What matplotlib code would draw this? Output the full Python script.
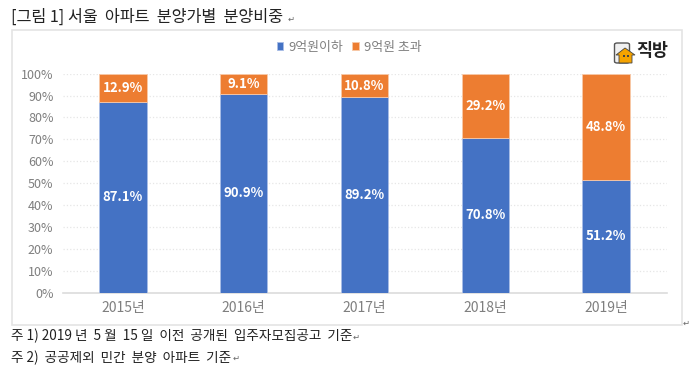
import matplotlib
matplotlib.use('Agg')
import matplotlib.pyplot as plt
from matplotlib.patches import Rectangle, Polygon, FancyBboxPatch

plt.rcParams['font.family'] = ['Noto Sans CJK KR', 'DejaVu Sans']

years = ['2015년', '2016년', '2017년', '2018년', '2019년']
under_9 = [87.1, 90.9, 89.2, 70.8, 51.2]
over_9 = [12.9, 9.1, 10.8, 29.2, 48.8]
yticks = list(range(0, 101, 10))

W, H = 700, 374
BLUE = '#4472c4'
ORANGE = '#ed7d31'
GREY = '#7f7f7f'


def fx(x):
    return x / W


def fy(y):
    return 1 - y / H


fig = plt.figure(figsize=(7, 3.74), dpi=100)

# outer chart frame, kept behind the axes
fig.add_artist(Rectangle((fx(11.5), fy(324.5)), 670.5 / W, 294.5 / H, transform=fig.transFigure,
                         fc='white', ec='#e4e4e4', lw=1.2, zorder=-1))

ax = fig.add_axes([fx(62.5), fy(292.5), 604 / W, 218.8 / H])
ax.patch.set_alpha(0)
xs = range(len(years))
ax.bar(xs, under_9, width=0.393, color=BLUE, ec='#a9bde6', lw=0.6, label='9억원이하', zorder=3)
ax.bar(xs, over_9, width=0.393, bottom=under_9, color=ORANGE, ec='#f8c9a8', lw=0.6, label='9억원 초과', zorder=3)

for i in xs:
    ax.text(i, under_9[i] / 2, f'{under_9[i]}%', color='white', ha='center', va='center',
            fontsize=9.5, fontweight='bold', zorder=4)
    ax.text(i, under_9[i] + over_9[i] / 2, f'{over_9[i]}%', color='white', ha='center', va='center',
            fontsize=9.5, fontweight='bold', zorder=4)

ax.set_xlim(-0.5, 4.5)
ax.set_ylim(0, 100)
ax.set_yticks(yticks)
ax.set_yticklabels([f'{t}%' for t in yticks], fontsize=9, color=GREY)
ax.set_xticks(list(xs))
ax.set_xticklabels(years, fontsize=10, color=GREY)
ax.tick_params(length=0)
ax.tick_params(axis='y', pad=6.5)
ax.tick_params(axis='x', pad=6)
ax.grid(axis='y', color='#e6e6e6', ls=':', lw=0.9, zorder=0)
for s in ['top', 'right', 'left']:
    ax.spines[s].set_visible(False)
ax.spines['bottom'].set_color('#dcdcdc')
ax.spines['bottom'].set_linewidth(1.2)

ax.legend(loc='center', bbox_to_anchor=(fx(349), fy(47)), bbox_transform=fig.transFigure, ncol=2,
          frameon=False, fontsize=9.3, labelcolor=GREY, handlelength=0.5, handleheight=0.5,
          handletextpad=0.4, columnspacing=0.7)

# title and notes
fig.text(fx(11), fy(17.5), '[그림 1] 서울  아파트  분양가별  분양비중', fontsize=11.7, color='#222222', va='center')
fig.text(fx(11), fy(336), '주 1) 2019 년  5 월  15 일  이전  공개된  입주자모집공고  기준', fontsize=9.8, color='#222222', va='center')
fig.text(fx(11), fy(358), '주 2)  공공제외  민간  분양  아파트  기준', fontsize=9.8, color='#222222', va='center')
for x, y in [(291, 19), (356, 337), (236, 358), (686, 323)]:
    fig.text(fx(x), fy(y), '↵', fontsize=6, color='#666666', va='center', ha='center')

# 직방 logo
fig.add_artist(FancyBboxPatch((fx(614.5), fy(63)), 15 / W, 20 / H, boxstyle='round,pad=0,rounding_size=0.004',
                              transform=fig.transFigure, fc='#f0f0f0', ec='#555555', lw=1))
fig.add_artist(Polygon([(fx(x), fy(y)) for x, y in [(616, 55), (625, 48), (635, 55), (632, 55), (632, 63), (619, 63), (619, 55)]],
                       closed=True, transform=fig.transFigure, fc='#f5a300', ec='#444444', lw=0.6))
fig.add_artist(Rectangle((fx(623), fy(57)), 1.5 / W, 1.5 / H, transform=fig.transFigure, fc='#444444', ec='none'))
fig.add_artist(Rectangle((fx(627), fy(57)), 1.5 / W, 1.5 / H, transform=fig.transFigure, fc='#444444', ec='none'))
fig.text(fx(652.5), fy(51), '직방', fontsize=12.5, fontweight='bold', color='#222222', ha='center', va='center')

fig.savefig('out.png', dpi=100)
